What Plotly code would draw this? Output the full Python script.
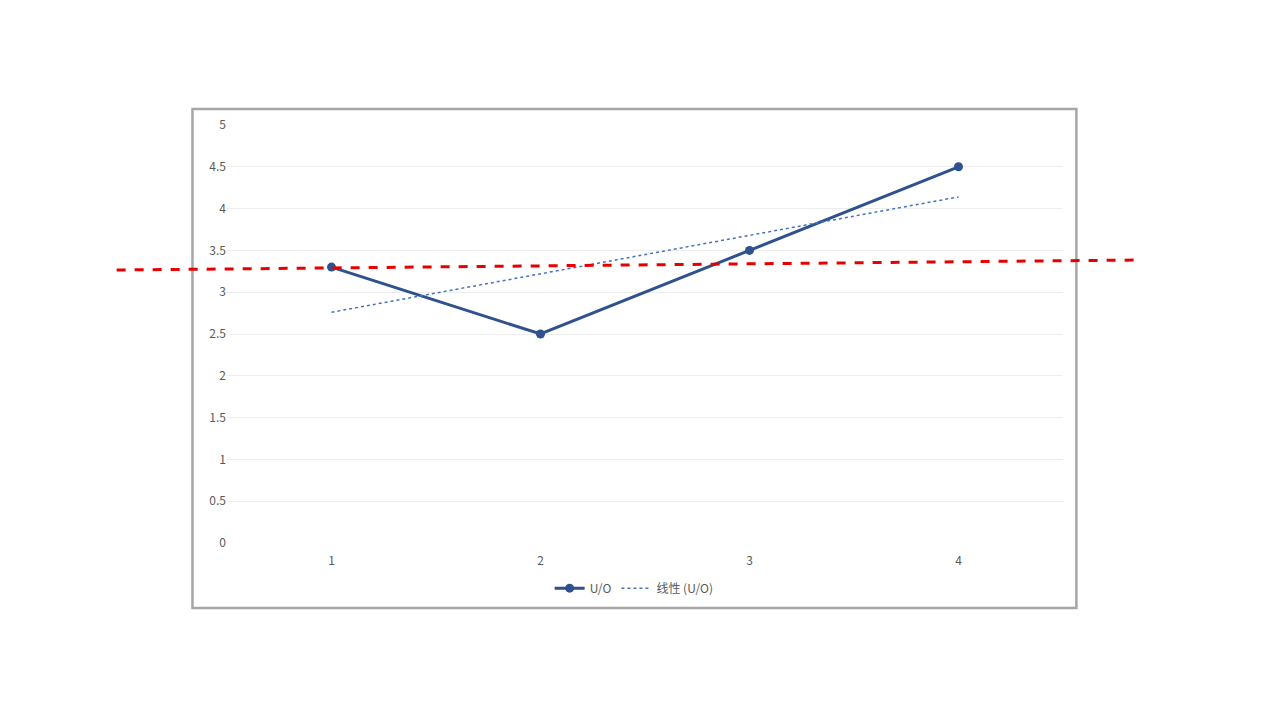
import plotly.graph_objects as go

categories = [1, 2, 3, 4]
uo_values = [3.3, 2.5, 3.5, 4.5]
trend_values = [2.76, 3.22, 3.68, 4.14]
y_ticks = [0, 0.5, 1, 1.5, 2, 2.5, 3, 3.5, 4, 4.5, 5]

line_color = "#2F528F"

fig = go.Figure()
fig.add_trace(go.Scatter(
    x=categories, y=uo_values, mode="lines+markers", name="U/O",
    line=dict(color=line_color, width=3), marker=dict(size=9, color=line_color),
))
fig.add_trace(go.Scatter(
    x=categories, y=trend_values, mode="lines", name="线性 (U/O)",
    line=dict(color="#4472C4", width=1.5, dash="dot"),
))

fig.update_layout(
    width=1277, height=722,
    margin=dict(l=219, r=222, t=117, b=187),
    paper_bgcolor="white", plot_bgcolor="white",
    font=dict(family="Noto Sans CJK SC, Liberation Sans, sans-serif", size=12, color="#595959"),
    xaxis=dict(range=[0.5, 4.5], tickvals=categories, showgrid=False, zeroline=False,
               showline=False, ticks="outside", ticklen=7, tickcolor="rgba(0,0,0,0)"),
    yaxis=dict(range=[0, 5], tickvals=y_ticks, showgrid=True, gridcolor="#EDEDED",
               zeroline=False, showline=False, ticks=""),
    legend=dict(orientation="h", x=0.487, xanchor="center", y=-0.108, yanchor="middle",
                font=dict(size=12, color="#595959")),
    shapes=[
        dict(type="rect", xref="paper", yref="paper", x0=-0.0413, x1=1.016,
             y0=-0.1555, y1=1.038, line=dict(color="#A6A6A6", width=2.5)),
        dict(type="line", xref="paper", yref="paper", x0=-0.132, x1=1.088,
             y0=0.653, y1=0.677, line=dict(color="#E60000", width=3, dash="dash")),
    ],
)

fig.write_html("out.html")
